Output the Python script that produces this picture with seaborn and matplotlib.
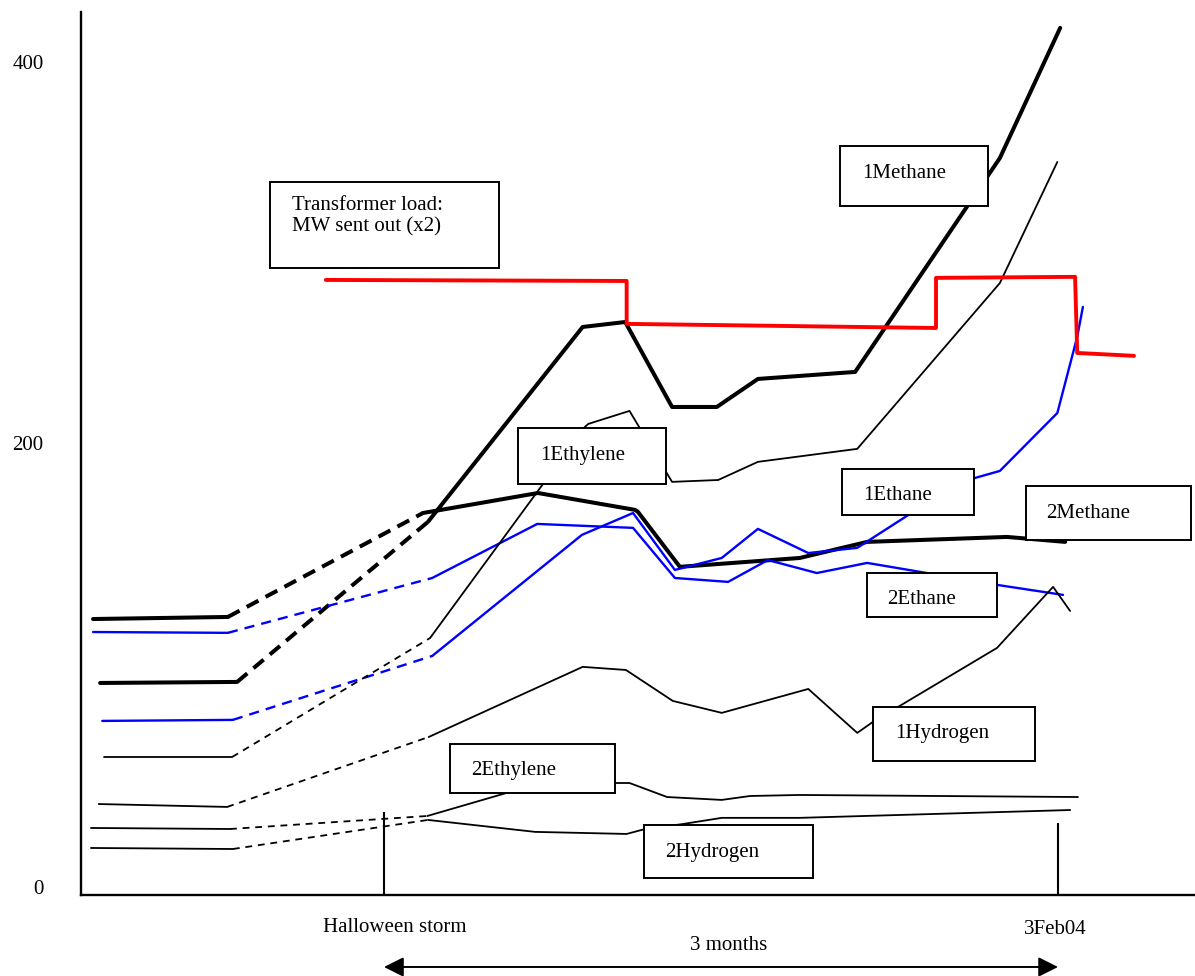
import numpy as np
import matplotlib
matplotlib.use('Agg')
import matplotlib.pyplot as plt
from matplotlib.patches import Rectangle
import seaborn as sns

# x = days after the Halloween storm (31 Oct 2003), y = gas level
# point 0-1: before the storm, 1-2: no samples (dashed), 2-: after
methane1_days = [-40.0, -20.7, 6.2, 28.0, 34.0, 40.6, 46.9, 52.7, 66.4, 86.8, 95.3]
methane1_ppm = [98.9, 99.4, 177.0, 271.5, 273.9, 232.7, 232.7, 246.3, 249.7, 353.4, 416.5]

methane2_days = [-41.0, -22.0, 5.5, 21.7, 35.4, 35.8, 41.7, 58.6, 68.1, 87.8, 96.0]
methane2_ppm = [129.9, 130.9, 181.3, 191.0, 182.8, 181.8, 155.2, 159.5, 167.3, 169.7, 167.3]

ethane1_days = [-39.7, -21.3, 6.8, 27.9, 35.1, 41.0, 47.6, 52.7, 59.8, 66.7, 73.7, 83.3, 86.8, 94.9, 97.7, 98.5]
ethane1_ppm = [80.5, 81.0, 112.0, 170.7, 181.3, 153.7, 159.5, 173.6, 161.9, 164.4, 179.9, 198.3, 201.7, 229.8, 266.7, 281.2]

ethane2_days = [-41.0, -22.0, 6.8, 21.6, 35.1, 41.0, 48.5, 54.1, 61.0, 68.1, 86.5, 95.7]
ethane2_ppm = [123.6, 123.2, 149.8, 176.0, 174.1, 149.8, 147.9, 158.5, 152.2, 157.1, 146.4, 141.6]

ethylene1_days = [-39.5, -21.4, 6.5, 28.3, 28.8, 34.6, 40.6, 47.1, 52.7, 66.7, 86.8, 94.9]
ethylene1_ppm = [63.0, 63.0, 120.7, 223.0, 224.5, 230.8, 196.4, 197.3, 206.1, 212.4, 292.8, 351.5]

hydrogen1_days = [-40.2, -22.1, 6.3, 28.0, 34.1, 40.7, 47.6, 59.8, 66.7, 68.9, 86.4, 94.3, 96.7]
hydrogen1_ppm = [40.2, 38.8, 72.7, 106.7, 105.2, 90.2, 84.4, 96.0, 74.7, 80.0, 115.9, 145.5, 133.8]

ethylene2_days = [-41.3, -21.7, 6.1, 17.3, 32.6, 34.6, 39.9, 47.6, 51.6, 58.6, 97.8]
ethylene2_ppm = [28.6, 28.1, 34.4, 45.6, 50.4, 50.4, 43.6, 42.2, 44.1, 44.6, 43.6]

hydrogen2_days = [-41.3, -21.3, 6.2, 21.3, 34.2, 36.8, 42.1, 47.6, 58.6, 96.7]
hydrogen2_ppm = [18.9, 18.4, 32.5, 26.7, 25.7, 28.1, 30.5, 33.5, 33.5, 37.3]

# transformer load, MW sent out x2
load_days = [-8.2, 34.2, 34.2, 77.8, 77.8, 97.4, 97.7, 105.7]
load_mw = [294.3, 293.8, 273.0, 271.0, 295.3, 295.8, 258.9, 257.5]

event_days = [0, 95]
event_labels = ['Halloween storm', '3Feb04']
ytick_vals = [0, 215.3, 400]
ytick_labels = ['0', '200', '400']

sns.set_theme(style='white')
plt.rcParams['font.family'] = ['Liberation Serif', 'DejaVu Serif']
plt.rcParams['text.color'] = 'black'
plt.rcParams['ytick.color'] = 'black'
plt.rcParams['xtick.color'] = 'black'

fig = plt.figure(figsize=(11.95, 9.76), dpi=100)
ax = fig.add_axes([81 / 1195, 81 / 976, 1 - 81 / 1195, 883 / 976])
ax.set_xlim(-42.7, 114.3)
ax.set_ylim(-3.9, 424.2)


def draw_gas(days, ppm, color, lw, dash):
    days = np.asarray(days)
    ppm = np.asarray(ppm)
    kw = dict(color=color, lw=lw, sort=False, estimator=None, ax=ax, zorder=2)
    sns.lineplot(x=days[:2], y=ppm[:2], **kw)
    sns.lineplot(x=days[1:3], y=ppm[1:3], linestyle=(0, dash), **kw)
    sns.lineplot(x=days[2:], y=ppm[2:], **kw)


thick, blue_w, thin = 2.9, 1.7, 1.3
draw_gas(methane1_days, methane1_ppm, 'black', thick, (3.3, 2.0))
draw_gas(methane2_days, methane2_ppm, 'black', thick, (3.3, 2.0))
draw_gas(ethane1_days, ethane1_ppm, '#0000ff', blue_w, (4.3, 3.0))
draw_gas(ethane2_days, ethane2_ppm, '#0000ff', blue_w, (4.3, 3.0))
draw_gas(ethylene1_days, ethylene1_ppm, 'black', thin, (3.8, 3.2))
draw_gas(hydrogen1_days, hydrogen1_ppm, 'black', thin, (3.8, 3.2))
draw_gas(ethylene2_days, ethylene2_ppm, 'black', thin, (3.8, 3.2))
draw_gas(hydrogen2_days, hydrogen2_ppm, 'black', thin, (3.8, 3.2))

sns.lineplot(x=load_days, y=load_mw, color='#ff0000', lw=2.8, sort=False,
             estimator=None, ax=ax, zorder=3)

# label boxes: (text, x0, y0, x1, y1, text x, text y)
boxes = [
    ('Transformer load:\nMW sent out (x2)', -16.1, 300.1, 16.2, 341.8, -13.0, 325.3),
    ('1Methane', 64.3, 330.2, 85.1, 359.3, 67.4, 345.8),
    ('1Ethylene', 18.9, 195.4, 39.8, 222.5, 22.0, 209.0),
    ('1Ethane', 64.6, 180.4, 83.2, 202.7, 67.5, 189.6),
    ('2Methane', 90.5, 168.2, 113.7, 194.4, 93.3, 180.9),
    ('2Ethane', 68.1, 130.9, 86.4, 152.2, 70.9, 139.2),
    ('1Hydrogen', 68.9, 61.1, 91.8, 87.3, 72.0, 74.2),
    ('2Ethylene', 9.3, 45.6, 32.6, 69.3, 12.3, 56.3),
    ('2Hydrogen', 36.7, 4.4, 60.5, 30.1, 39.6, 16.5),
]
for label, x0, y0, x1, y1, tx, ty in boxes:
    ax.add_patch(Rectangle((x0, y0), x1 - x0, y1 - y0, facecolor='white',
                           edgecolor='black', lw=1.4, zorder=5, clip_on=False))
    ax.text(tx, ty, label, ha='left', va='center', fontsize=15,
            linespacing=1.15, zorder=6)

# storm / sample date markers
ax.vlines(event_days, -3.9, [36.4, 31.0], color='black', lw=1.5, zorder=2)
ax.text(1.5, -19.8, event_labels[0], ha='center', va='center', fontsize=15, clip_on=False)
ax.text(94.6, -20.6, event_labels[1], ha='center', va='center', fontsize=15, clip_on=False)
ax.text(48.6, -28.4, '3 months', ha='center', va='center', fontsize=15, clip_on=False)
ax.annotate('', xy=(event_days[1], -38.8), xytext=(event_days[0], -38.8),
            annotation_clip=False,
            arrowprops=dict(arrowstyle='<|-|>,head_length=0.4,head_width=0.2',
                            mutation_scale=30, lw=1.4, color='black',
                            shrinkA=0, shrinkB=0))

ax.set_xticks([])
ax.set_yticks(ytick_vals, labels=ytick_labels)
ax.tick_params(axis='y', length=0, pad=27, labelsize=15, labelcolor='black')
ax.set_xlabel('')
ax.set_ylabel('')
for side in ['top', 'right']:
    ax.spines[side].set_visible(False)
for side in ['left', 'bottom']:
    ax.spines[side].set_color('black')
    ax.spines[side].set_linewidth(1.7)

fig.savefig('out.png', dpi=100)
